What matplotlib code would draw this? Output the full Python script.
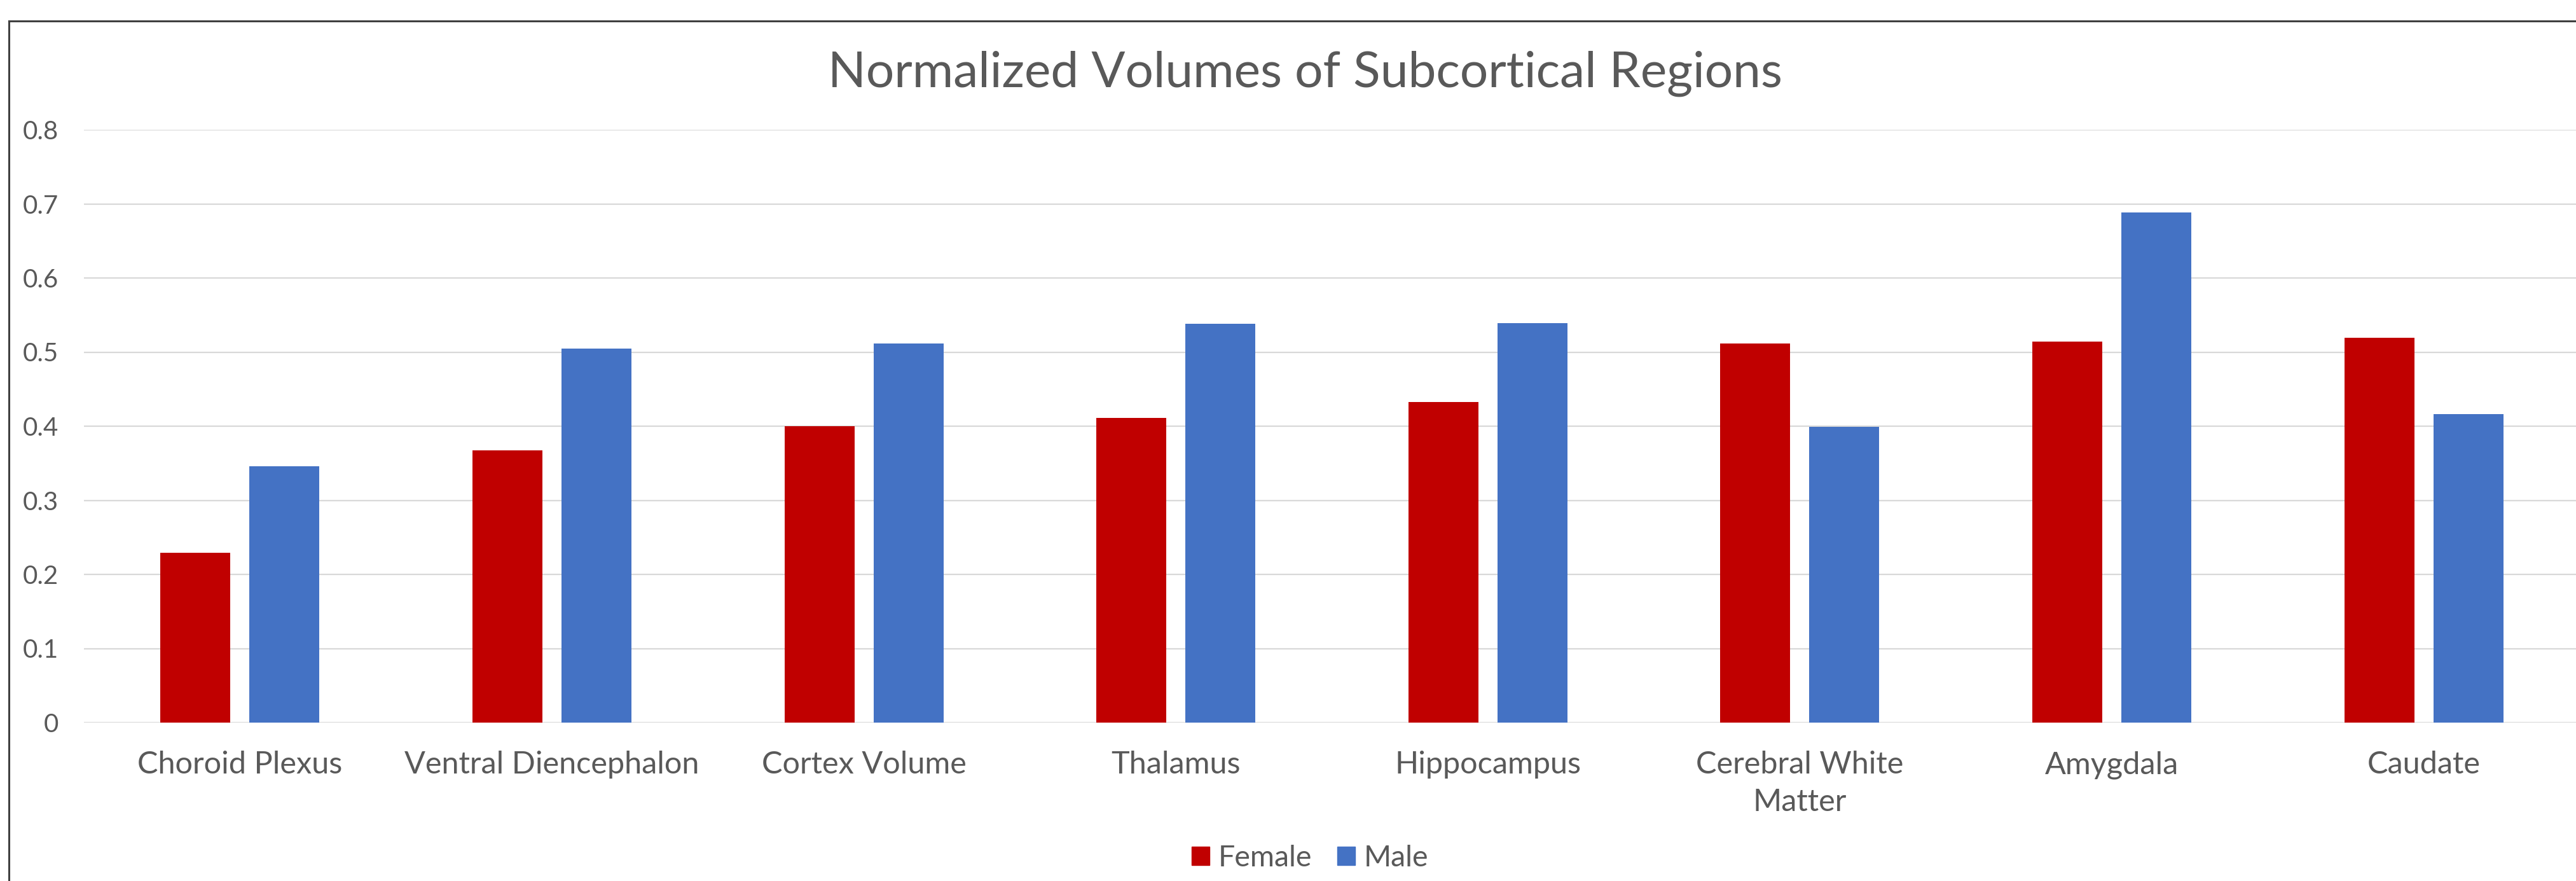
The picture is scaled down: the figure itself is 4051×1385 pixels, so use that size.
import numpy as np
import matplotlib
matplotlib.use("Agg")
import matplotlib.pyplot as plt
from matplotlib.lines import Line2D
from matplotlib.patches import Patch

# Daten
regions = ["Choroid Plexus", "Ventral Diencephalon", "Cortex Volume", "Thalamus",
           "Hippocampus", "Cerebral White\nMatter", "Amygdala", "Caudate"]
female = [0.229, 0.367, 0.400, 0.411, 0.433, 0.512, 0.514, 0.519]
male = [0.346, 0.505, 0.512, 0.538, 0.539, 0.399, 0.688, 0.416]
yticks = [0, 0.1, 0.2, 0.3, 0.4, 0.5, 0.6, 0.7, 0.8]
ytick_labels = ["0", "0.1", "0.2", "0.3", "0.4", "0.5", "0.6", "0.7", "0.8"]

W, H = 4051, 1385
plt.rcParams['font.family'] = ['Lato', 'DejaVu Sans']
text_col = '#595959'

fig = plt.figure(figsize=(W / 100, H / 100), dpi=100)
# Achse reicht rechts leicht über den Bildrand (Original ist abgeschnitten)
ax = fig.add_axes([132 / W, 249 / H, 3925 / W, 932 / H])

x = np.arange(len(regions))
bw = 0.224
off = 0.1427
ax.bar(x - off, female, bw, color='#c00000', label='Female', zorder=3)
ax.bar(x + off, male, bw, color='#4472c4', label='Male', zorder=3)

ax.set_xlim(-0.5, len(regions) - 0.5)
ax.set_ylim(0, 0.8)
ax.set_yticks(yticks)
ax.set_yticklabels(ytick_labels)
ax.set_xticks(x)
ax.set_xticklabels(regions, linespacing=1.4)
ax.tick_params(axis='y', length=0, pad=29, labelsize=29, labelcolor=text_col)
ax.tick_params(axis='x', length=0, pad=32, labelsize=35, labelcolor=text_col)
ax.grid(axis='y', color='#d9d9d9', linewidth=1.6, zorder=0)
for s in ax.spines.values():
    s.set_visible(False)

# Titel
fig.text(2052 / W, 1 - 116 / H, "Normalized Volumes of Subcortical Regions",
         ha='center', va='center', fontsize=56.5, color=text_col)

# Legende
handles = [Patch(color='#c00000', label='Female'), Patch(color='#4472c4', label='Male')]
fig.legend(handles=handles, loc='center', bbox_to_anchor=(2060 / W, 1 - 1349 / H),
           ncol=2, frameon=False, fontsize=33.5, handlelength=0.6, handleheight=0.6,
           handletextpad=0.3, columnspacing=0.85, labelcolor=text_col)

# Rahmen (nur links und oben sichtbar)
fig.add_artist(Line2D([14 / W, 14 / W], [0, 1 - 33 / H], color='#404040', linewidth=2.2))
fig.add_artist(Line2D([14 / W, 1], [1 - 33 / H, 1 - 33 / H], color='#404040', linewidth=2.2))

fig.savefig('out.png', dpi=100, facecolor='white')
